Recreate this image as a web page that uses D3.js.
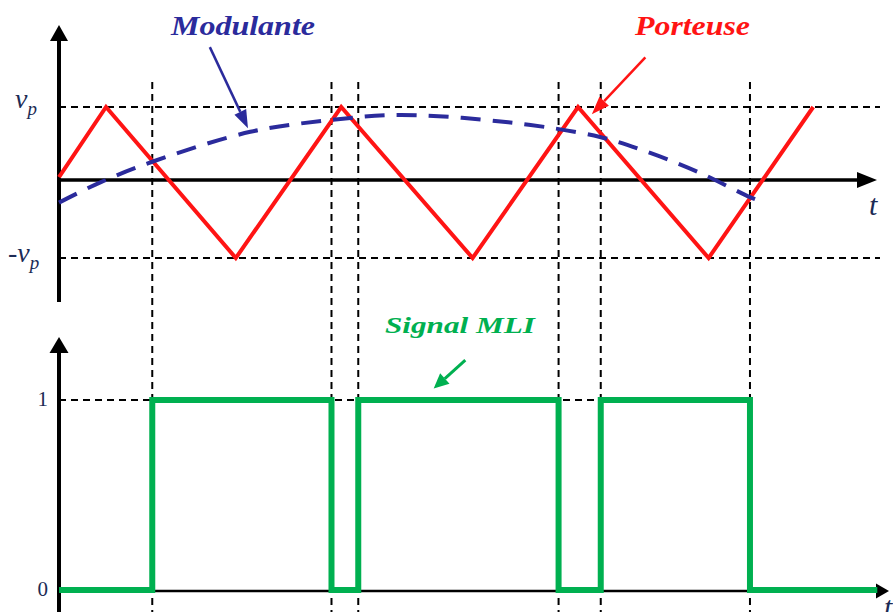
<!DOCTYPE html>
<html>
<head>
<meta charset="utf-8">
<script src="https://cdn.jsdelivr.net/npm/d3@7"></script>
<style>
  body { margin: 0; background: #fff; }
  svg { display: block; }
</style>
</head>
<body>
<div id="chart"></div>
<script>
// carrier (triangle) vertices, t in arbitrary units, v in units of v_p
var carrierT = [0, 5.8, 21.8, 34.8, 51.0, 64.0, 80.1, 93.0];
var carrierV = [0.04, 1, -1, 1, -1, 1, -1, 1];

// modulating signal
var modT = [0, 5.1, 11.5, 23.6, 33.4, 42.0, 55.4, 66.7, 72.9, 79.0, 85.2, 86.7];
var modV = [-0.29, -0.03, 0.25, 0.66, 0.82, 0.89, 0.79, 0.59, 0.37, 0.10, -0.22, -0.28];

// switching instants (carrier / modulante crossings) and PWM levels
var switchT = [11.5, 33.6, 36.9, 61.6, 66.8, 85.2];
var mliLevels = [0, 1, 0, 1, 0, 1, 0];
var mliEnd = 100.9;

var svgWidth = 893;
var svgHeight = 612;
var axisX = 59;

var svg = d3.select("#chart")
    .append("svg")
    .attr("width", svgWidth)
    .attr("height", svgHeight);

var xScale = d3.scaleLinear().domain([0, 100]).range([axisX, axisX + 811]);
var yTop = d3.scaleLinear().domain([-1, 0, 1]).range([258, 180, 107]);
var yBot = d3.scaleLinear().domain([0, 1]).range([590, 400]);

var blue = "#2b2b9c";
var red = "#ff1414";
var green = "#00b050";
var labelColor = "#1c2b55";

function dashedLine(x1, y1, x2, y2) {
    svg.append("line")
        .attr("x1", x1).attr("y1", y1)
        .attr("x2", x2).attr("y2", y2)
        .attr("stroke", "#000")
        .attr("stroke-width", 2)
        .attr("stroke-dasharray", "7,5");
}

// reference dashed lines
dashedLine(axisX, yTop(1), 880, yTop(1));
dashedLine(axisX, yTop(-1), 880, yTop(-1));
dashedLine(axisX, yBot(1), xScale(switchT[switchT.length - 1]), yBot(1));
switchT.forEach(function (t) {
    dashedLine(xScale(t), 82, xScale(t), svgHeight);
});

// axes with arrow heads
function arrowHead(tipX, tipY, dir, len, wid) {
    var p;
    if (dir === "up") {
        p = [[tipX, tipY], [tipX - wid / 2, tipY + len], [tipX + wid / 2, tipY + len]];
    } else {
        p = [[tipX, tipY], [tipX - len, tipY - wid / 2], [tipX - len, tipY + wid / 2]];
    }
    svg.append("path")
        .attr("d", "M" + p.join("L") + "Z")
        .attr("fill", "#000");
}

function axisLine(x1, y1, x2, y2, w) {
    svg.append("line")
        .attr("x1", x1).attr("y1", y1)
        .attr("x2", x2).attr("y2", y2)
        .attr("stroke", "#000")
        .attr("stroke-width", w);
}

// top panel
axisLine(axisX, 302, axisX, 38, 4);
arrowHead(axisX, 25, "up", 16, 18);
axisLine(axisX, yTop(0), 860, yTop(0), 3.5);
arrowHead(877, yTop(0), "right", 20, 16);

// bottom panel
axisLine(axisX, svgHeight, axisX, 350, 4);
arrowHead(axisX, 337, "up", 16, 19);
axisLine(axisX, yBot(0) + 1, 878, yBot(0) + 1, 2.5);
arrowHead(889, yBot(0) + 1, "right", 13, 15);

// carrier
var carrierLine = d3.line()
    .x(function (d, i) { return xScale(carrierT[i]); })
    .y(function (d) { return yTop(d); });

svg.append("path")
    .attr("d", carrierLine(carrierV))
    .attr("fill", "none")
    .attr("stroke", red)
    .attr("stroke-width", 4)
    .attr("stroke-linejoin", "miter");

// modulante
var modLine = d3.line()
    .x(function (d, i) { return xScale(modT[i]); })
    .y(function (d) { return yTop(d); })
    .curve(d3.curveCatmullRom);

svg.append("path")
    .attr("d", modLine(modV))
    .attr("fill", "none")
    .attr("stroke", blue)
    .attr("stroke-width", 4)
    .attr("stroke-dasharray", "20,12");

// PWM signal
var mliPts = [];
var edges = [0].concat(switchT).concat([mliEnd]);
mliLevels.forEach(function (lv, i) {
    mliPts.push([edges[i], lv]);
    mliPts.push([edges[i + 1], lv]);
});

var mliLine = d3.line()
    .x(function (d) { return xScale(d[0]); })
    .y(function (d) { return yBot(d[1]); });

svg.append("path")
    .attr("d", mliLine(mliPts))
    .attr("fill", "none")
    .attr("stroke", green)
    .attr("stroke-width", 6)
    .attr("stroke-linejoin", "miter");

// annotations
function annArrow(x1, y1, x2, y2, color, w, hl, hw) {
    var ang = Math.atan2(y2 - y1, x2 - x1);
    var bx = x2 - hl * Math.cos(ang), by = y2 - hl * Math.sin(ang);
    svg.append("line")
        .attr("x1", x1).attr("y1", y1)
        .attr("x2", bx).attr("y2", by)
        .attr("stroke", color)
        .attr("stroke-width", w);
    var px = -Math.sin(ang) * hw / 2, py = Math.cos(ang) * hw / 2;
    svg.append("path")
        .attr("d", "M" + x2 + "," + y2 + "L" + (bx + px) + "," + (by + py) +
            "L" + (bx - px) + "," + (by - py) + "Z")
        .attr("fill", color);
}

annArrow(xScale(18.6), yTop(1.82), xScale(23.3), yTop(0.71), blue, 2.5, 18, 13);
annArrow(xScale(72.3), yTop(1.68), xScale(65.7), yTop(0.90), red, 2.5, 18, 13);
annArrow(xScale(50.1), yBot(1.21), xScale(46.2), yBot(1.06), green, 3, 15, 14);

function title(txt, x, y, size, len, color) {
    svg.append("text")
        .attr("x", x).attr("y", y)
        .attr("font-family", "'Liberation Serif', serif")
        .attr("font-style", "italic")
        .attr("font-weight", "bold")
        .attr("font-size", size + "px")
        .attr("textLength", len)
        .attr("lengthAdjust", "spacingAndGlyphs")
        .attr("fill", color)
        .text(txt);
}

title("Modulante", 171, 35, 27, 144, blue);
title("Porteuse", 635, 35, 27, 115, red);
title("Signal MLI", 385, 333, 24, 150, green);

// axis labels
function vLabel(prefix, x, y) {
    var t = svg.append("text")
        .attr("x", x).attr("y", y)
        .attr("font-family", "'Liberation Serif', serif")
        .attr("font-style", "italic")
        .attr("font-size", "28px")
        .attr("fill", labelColor);
    t.append("tspan").text(prefix + "v");
    t.append("tspan").attr("dy", 7).attr("font-size", "19px").text("p");
}
vLabel("", 15, yTop(1) + 1);
vLabel("-", 8, yTop(-1) + 4);

svg.append("text")
    .attr("x", 869).attr("y", 215)
    .attr("font-family", "'Liberation Serif', serif")
    .attr("font-style", "italic")
    .attr("font-size", "30px")
    .attr("fill", labelColor)
    .text("t");

svg.append("text")
    .attr("x", 884).attr("y", 617)
    .attr("font-family", "'Liberation Serif', serif")
    .attr("font-style", "italic")
    .attr("font-size", "30px")
    .attr("fill", labelColor)
    .text("t");

[1, 0].forEach(function (lv) {
    svg.append("text")
        .attr("x", 48).attr("y", yBot(lv) + 6)
        .attr("text-anchor", "end")
        .attr("font-family", "'Liberation Serif', serif")
        .attr("font-size", "21px")
        .attr("fill", labelColor)
        .text(lv);
});
</script>
</body>
</html>
